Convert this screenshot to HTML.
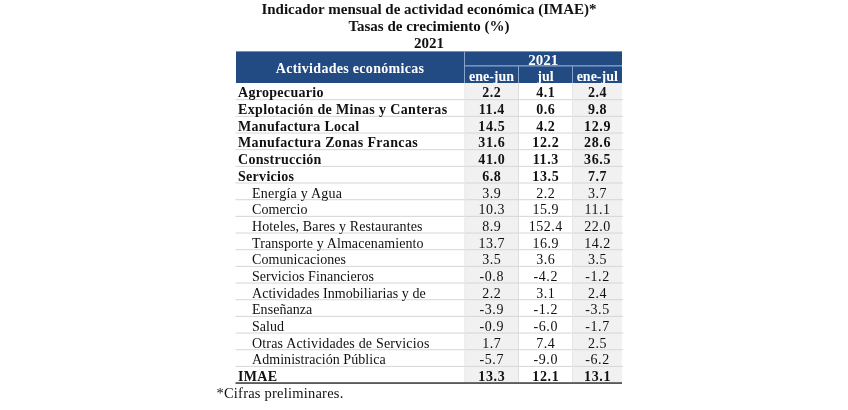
<!DOCTYPE html><html><head><meta charset="utf-8"><style>
*{margin:0;padding:0;box-sizing:border-box}
html,body{width:848px;height:410px;background:#fff;overflow:hidden}
body{position:relative;filter:blur(0.3px);font-family:"Liberation Serif",serif;color:#111}
div{position:absolute;white-space:nowrap}
svg{position:absolute;left:0;top:0}
.t{left:0;width:858px;text-align:center;font-weight:bold}
.ht{color:#fff;font-weight:bold;text-align:center}
.b{font-weight:bold;letter-spacing:0.3px}
.n{letter-spacing:0.05px}
.num{text-align:center}
.b.num{letter-spacing:0.6px;text-indent:0.6px}
.n.num{letter-spacing:0.55px;text-indent:0.55px}
</style></head><body>
<svg width="848" height="410" viewBox="0 0 848 410"><rect x="236.0" y="51.4" width="386.0" height="31.6" fill="#224b84"/><rect x="464.5" y="83.0" width="54.0" height="300.06000000000006" fill="#f1f1f1"/><rect x="572.5" y="83.0" width="49.5" height="300.06000000000006" fill="#f1f1f1"/><rect x="235.5" y="99.17" width="387.5" height="1" fill="#d6d6d6"/><rect x="235.5" y="115.84" width="387.5" height="1" fill="#d6d6d6"/><rect x="235.5" y="132.51" width="387.5" height="1" fill="#d6d6d6"/><rect x="235.5" y="149.18" width="387.5" height="1" fill="#d6d6d6"/><rect x="235.5" y="165.85" width="387.5" height="1" fill="#d6d6d6"/><rect x="235.5" y="182.52" width="387.5" height="1" fill="#d6d6d6"/><rect x="235.5" y="199.19" width="387.5" height="1" fill="#d6d6d6"/><rect x="235.5" y="215.86" width="387.5" height="1" fill="#d6d6d6"/><rect x="235.5" y="232.53" width="387.5" height="1" fill="#d6d6d6"/><rect x="235.5" y="249.20" width="387.5" height="1" fill="#d6d6d6"/><rect x="235.5" y="265.87" width="387.5" height="1" fill="#d6d6d6"/><rect x="235.5" y="282.54" width="387.5" height="1" fill="#d6d6d6"/><rect x="235.5" y="299.21" width="387.5" height="1" fill="#d6d6d6"/><rect x="235.5" y="315.88" width="387.5" height="1" fill="#d6d6d6"/><rect x="235.5" y="332.55" width="387.5" height="1" fill="#d6d6d6"/><rect x="235.5" y="349.22" width="387.5" height="1" fill="#d6d6d6"/><rect x="235.5" y="365.89" width="387.5" height="1" fill="#d6d6d6"/><rect x="518.0" y="83.0" width="1" height="300.06000000000006" fill="#dedede"/><rect x="572.0" y="83.0" width="1" height="300.06000000000006" fill="#e6e6e6"/><rect x="464.5" y="83.0" width="1" height="300.06000000000006" fill="#e8e8e8"/><rect x="235.5" y="382.16" width="386.5" height="1.8" fill="#555"/><rect x="464.0" y="51.4" width="1" height="31.6" fill="#8aa3cb"/><rect x="464.5" y="65.2" width="157.5" height="1.3" fill="#8aa3cb"/><rect x="518.0" y="66" width="1" height="17.0" fill="#8aa3cb"/><rect x="572.0" y="66" width="1" height="17.0" fill="#8aa3cb"/></svg>
<div class="t" style="top:1.44px;font-size:15px;line-height:17px;">Indicador mensual de actividad económica (IMAE)*</div>
<div class="t" style="top:18.44px;font-size:15px;line-height:17px;">Tasas de crecimiento (%)</div>
<div class="t" style="top:35.44px;font-size:15px;line-height:17px;">2021</div>
<div class="ht" style="top:61.28px;font-size:14px;line-height:16px;left:235.5px;width:229.0px;letter-spacing:0.3px">Actividades económicas</div>
<div class="ht" style="top:51.94px;font-size:15px;line-height:16px;left:464.5px;width:157.5px">2021</div>
<div class="ht" style="top:69.28px;font-size:14px;line-height:16px;left:464.5px;width:54.0px">ene-jun</div>
<div class="ht" style="top:69.28px;font-size:14px;line-height:16px;left:518.5px;width:54.0px">jul</div>
<div class="ht" style="top:69.28px;font-size:14px;line-height:16px;left:572.5px;width:49.5px">ene-jul</div>
<div class="r b lab" style="top:84.48px;font-size:14px;line-height:17px;left:238px;">Agropecuario</div>
<div class="r b num" style="top:84.48px;font-size:14px;line-height:17px;left:464.5px;width:54.0px">2.2</div>
<div class="r b num" style="top:84.48px;font-size:14px;line-height:17px;left:518.5px;width:54.0px">4.1</div>
<div class="r b num" style="top:84.48px;font-size:14px;line-height:17px;left:572.5px;width:49.5px">2.4</div>
<div class="r b lab" style="top:101.15px;font-size:14px;line-height:17px;left:238px;letter-spacing:0.36px">Explotación de Minas y Canteras</div>
<div class="r b num" style="top:101.15px;font-size:14px;line-height:17px;left:464.5px;width:54.0px">11.4</div>
<div class="r b num" style="top:101.15px;font-size:14px;line-height:17px;left:518.5px;width:54.0px">0.6</div>
<div class="r b num" style="top:101.15px;font-size:14px;line-height:17px;left:572.5px;width:49.5px">9.8</div>
<div class="r b lab" style="top:117.82px;font-size:14px;line-height:17px;left:238px;">Manufactura Local</div>
<div class="r b num" style="top:117.82px;font-size:14px;line-height:17px;left:464.5px;width:54.0px">14.5</div>
<div class="r b num" style="top:117.82px;font-size:14px;line-height:17px;left:518.5px;width:54.0px">4.2</div>
<div class="r b num" style="top:117.82px;font-size:14px;line-height:17px;left:572.5px;width:49.5px">12.9</div>
<div class="r b lab" style="top:134.49px;font-size:14px;line-height:17px;left:238px;letter-spacing:0.36px">Manufactura Zonas Francas</div>
<div class="r b num" style="top:134.49px;font-size:14px;line-height:17px;left:464.5px;width:54.0px">31.6</div>
<div class="r b num" style="top:134.49px;font-size:14px;line-height:17px;left:518.5px;width:54.0px">12.2</div>
<div class="r b num" style="top:134.49px;font-size:14px;line-height:17px;left:572.5px;width:49.5px">28.6</div>
<div class="r b lab" style="top:151.16px;font-size:14px;line-height:17px;left:238px;">Construcción</div>
<div class="r b num" style="top:151.16px;font-size:14px;line-height:17px;left:464.5px;width:54.0px">41.0</div>
<div class="r b num" style="top:151.16px;font-size:14px;line-height:17px;left:518.5px;width:54.0px">11.3</div>
<div class="r b num" style="top:151.16px;font-size:14px;line-height:17px;left:572.5px;width:49.5px">36.5</div>
<div class="r b lab" style="top:167.83px;font-size:14px;line-height:17px;left:238px;">Servicios</div>
<div class="r b num" style="top:167.83px;font-size:14px;line-height:17px;left:464.5px;width:54.0px">6.8</div>
<div class="r b num" style="top:167.83px;font-size:14px;line-height:17px;left:518.5px;width:54.0px">13.5</div>
<div class="r b num" style="top:167.83px;font-size:14px;line-height:17px;left:572.5px;width:49.5px">7.7</div>
<div class="r n lab" style="top:184.50px;font-size:14px;line-height:17px;left:252px;letter-spacing:0.25px">Energía y Agua</div>
<div class="r n num" style="top:184.50px;font-size:14px;line-height:17px;left:464.5px;width:54.0px">3.9</div>
<div class="r n num" style="top:184.50px;font-size:14px;line-height:17px;left:518.5px;width:54.0px">2.2</div>
<div class="r n num" style="top:184.50px;font-size:14px;line-height:17px;left:572.5px;width:49.5px">3.7</div>
<div class="r n lab" style="top:201.17px;font-size:14px;line-height:17px;left:252px;">Comercio</div>
<div class="r n num" style="top:201.17px;font-size:14px;line-height:17px;left:464.5px;width:54.0px">10.3</div>
<div class="r n num" style="top:201.17px;font-size:14px;line-height:17px;left:518.5px;width:54.0px">15.9</div>
<div class="r n num" style="top:201.17px;font-size:14px;line-height:17px;left:572.5px;width:49.5px">11.1</div>
<div class="r n lab" style="top:217.84px;font-size:14px;line-height:17px;left:252px;letter-spacing:0.12px">Hoteles, Bares y Restaurantes</div>
<div class="r n num" style="top:217.84px;font-size:14px;line-height:17px;left:464.5px;width:54.0px">8.9</div>
<div class="r n num" style="top:217.84px;font-size:14px;line-height:17px;left:518.5px;width:54.0px">152.4</div>
<div class="r n num" style="top:217.84px;font-size:14px;line-height:17px;left:572.5px;width:49.5px">22.0</div>
<div class="r n lab" style="top:234.51px;font-size:14px;line-height:17px;left:252px;letter-spacing:0.1px">Transporte y Almacenamiento</div>
<div class="r n num" style="top:234.51px;font-size:14px;line-height:17px;left:464.5px;width:54.0px">13.7</div>
<div class="r n num" style="top:234.51px;font-size:14px;line-height:17px;left:518.5px;width:54.0px">16.9</div>
<div class="r n num" style="top:234.51px;font-size:14px;line-height:17px;left:572.5px;width:49.5px">14.2</div>
<div class="r n lab" style="top:251.18px;font-size:14px;line-height:17px;left:252px;">Comunicaciones</div>
<div class="r n num" style="top:251.18px;font-size:14px;line-height:17px;left:464.5px;width:54.0px">3.5</div>
<div class="r n num" style="top:251.18px;font-size:14px;line-height:17px;left:518.5px;width:54.0px">3.6</div>
<div class="r n num" style="top:251.18px;font-size:14px;line-height:17px;left:572.5px;width:49.5px">3.5</div>
<div class="r n lab" style="top:267.85px;font-size:14px;line-height:17px;left:252px;">Servicios Financieros</div>
<div class="r n num" style="top:267.85px;font-size:14px;line-height:17px;left:464.5px;width:54.0px">-0.8</div>
<div class="r n num" style="top:267.85px;font-size:14px;line-height:17px;left:518.5px;width:54.0px">-4.2</div>
<div class="r n num" style="top:267.85px;font-size:14px;line-height:17px;left:572.5px;width:49.5px">-1.2</div>
<div class="r n lab" style="top:284.52px;font-size:14px;line-height:17px;left:252px;">Actividades Inmobiliarias y de</div>
<div class="r n num" style="top:284.52px;font-size:14px;line-height:17px;left:464.5px;width:54.0px">2.2</div>
<div class="r n num" style="top:284.52px;font-size:14px;line-height:17px;left:518.5px;width:54.0px">3.1</div>
<div class="r n num" style="top:284.52px;font-size:14px;line-height:17px;left:572.5px;width:49.5px">2.4</div>
<div class="r n lab" style="top:301.19px;font-size:14px;line-height:17px;left:252px;">Enseñanza</div>
<div class="r n num" style="top:301.19px;font-size:14px;line-height:17px;left:464.5px;width:54.0px">-3.9</div>
<div class="r n num" style="top:301.19px;font-size:14px;line-height:17px;left:518.5px;width:54.0px">-1.2</div>
<div class="r n num" style="top:301.19px;font-size:14px;line-height:17px;left:572.5px;width:49.5px">-3.5</div>
<div class="r n lab" style="top:317.86px;font-size:14px;line-height:17px;left:252px;">Salud</div>
<div class="r n num" style="top:317.86px;font-size:14px;line-height:17px;left:464.5px;width:54.0px">-0.9</div>
<div class="r n num" style="top:317.86px;font-size:14px;line-height:17px;left:518.5px;width:54.0px">-6.0</div>
<div class="r n num" style="top:317.86px;font-size:14px;line-height:17px;left:572.5px;width:49.5px">-1.7</div>
<div class="r n lab" style="top:334.53px;font-size:14px;line-height:17px;left:252px;letter-spacing:0.18px">Otras Actividades de Servicios</div>
<div class="r n num" style="top:334.53px;font-size:14px;line-height:17px;left:464.5px;width:54.0px">1.7</div>
<div class="r n num" style="top:334.53px;font-size:14px;line-height:17px;left:518.5px;width:54.0px">7.4</div>
<div class="r n num" style="top:334.53px;font-size:14px;line-height:17px;left:572.5px;width:49.5px">2.5</div>
<div class="r n lab" style="top:351.20px;font-size:14px;line-height:17px;left:252px;">Administración Pública</div>
<div class="r n num" style="top:351.20px;font-size:14px;line-height:17px;left:464.5px;width:54.0px">-5.7</div>
<div class="r n num" style="top:351.20px;font-size:14px;line-height:17px;left:518.5px;width:54.0px">-9.0</div>
<div class="r n num" style="top:351.20px;font-size:14px;line-height:17px;left:572.5px;width:49.5px">-6.2</div>
<div class="r b lab" style="top:367.87px;font-size:14px;line-height:17px;left:238px;">IMAE</div>
<div class="r b num" style="top:367.87px;font-size:14px;line-height:17px;left:464.5px;width:54.0px">13.3</div>
<div class="r b num" style="top:367.87px;font-size:14px;line-height:17px;left:518.5px;width:54.0px">12.1</div>
<div class="r b num" style="top:367.87px;font-size:14px;line-height:17px;left:572.5px;width:49.5px">13.1</div>
<div class="foot" style="top:385.11px;font-size:14.5px;line-height:17px;left:216.5px;letter-spacing:0.22px">*Cifras preliminares.</div>
</body></html>
